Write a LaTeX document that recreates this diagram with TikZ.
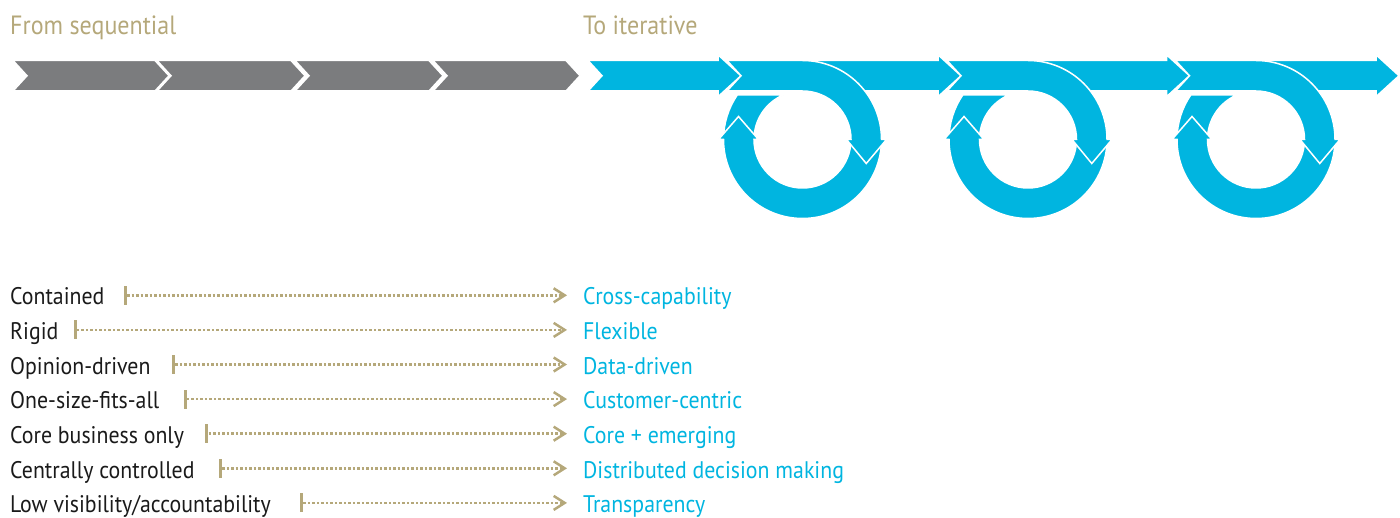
\documentclass[tikz,border=0pt]{standalone}
\usepackage{fontspec}
\setmainfont[FakeStretch=0.91]{PT Sans}
\usepackage{tikz}
\usetikzlibrary{arrows.meta,positioning}

\definecolor{seqgrey}{HTML}{7B7C7E}
\definecolor{iterblue}{HTML}{00B5E0}
\definecolor{khaki}{HTML}{B5A87A}
\definecolor{ink}{HTML}{1A1A1A}

\begin{document}
\begin{tikzpicture}[x=1pt,y=1pt,
  seqbox/.style={fill=seqgrey,draw=white,line width=1.5pt},
  iterbox/.style={fill=iterblue,draw=white,line width=1.5pt},
  heading/.style={anchor=base west,inner sep=0pt,text=khaki,font=\fontsize{26.4}{30}\selectfont},
  oldlabel/.style={anchor=base west,inner sep=0pt,text=ink,font=\fontsize{24}{28}\selectfont},
  newlabel/.style={anchor=base west,inner sep=0pt,text=iterblue,font=\fontsize{24}{28}\selectfont},
  tickbar/.style={fill=khaki,inner sep=0pt,minimum width=3pt,minimum height=19pt,anchor=south west},
  shiftline/.style={khaki,line width=2.5pt,dash pattern=on 2.5pt off 2pt,shorten >=16pt,
    -{Straight Barb[length=11pt,width=14pt]}}]
\useasboundingbox (0,0) rectangle (1400,-518);

\node[heading] (from) at (10,-35) {From sequential};
\node[heading] (to) at (583,-35) {To iterative};

% sequential: four grey chevrons
\foreach \tail/\tip in {13/169, 157/305, 295/443, 433/580}
  \draw[seqbox] (\tail,-60.5) -- (\tip-14,-60.5) -- (\tip,-75.75) -- (\tip-14,-91)
    -- (\tail,-91) -- (\tail+14,-75.75) -- cycle;

% iterative: first arrow, then each loop with the arrow leaving it
\draw[iterbox] (588,-60.5) -- (718,-60.5) -- (718,-54.75) -- (741,-75.75)
  -- (718,-96.75) -- (718,-91) -- (588,-91) -- (602,-75.75) -- cycle;
\foreach \cx/\tip/\next in {802.5/741/961, 1028/961/1189.5, 1256/1189.5/1399} {
  \draw[iterbox] (\cx,-60.5) -- (\next-23,-60.5) -- (\next-23,-54.75) -- (\next,-75.75)
    -- (\next-23,-96.75) -- (\next-23,-91) -- (\cx,-91) -- cycle;
  \begin{scope}[shift={(\cx,-139.5)}]
    % left piece, cut under the band
    \draw[iterbox] (180:79) arc[start angle=180,end angle=145.7,radius=79]
      -- (113.4:48.5) arc[start angle=113.4,end angle=180,radius=48.5] -- cycle;
    % bottom half, head pointing up
    \draw[iterbox] (0:79) arc[start angle=0,end angle=-180,radius=79]
      -- (-84,0) -- (-64,23) -- (-44,0) -- (-48.5,0)
      arc[start angle=180,end angle=360,radius=48.5] -- cycle;
    % band turning down, head pointing down
    \draw[iterbox] (\tip-14-\cx,79) -- (0,79) arc[start angle=90,end angle=0,radius=79]
      -- (84,0) -- (63.75,-24) -- (44,0) -- (48.5,0)
      arc[start angle=0,end angle=90,radius=48.5] -- (\tip-14-\cx,48.5)
      -- (\tip-\cx,63.75) -- cycle;
  \end{scope}
}

\node[oldlabel] (l1) at (10,-305) {Contained};
\node[oldlabel] (l2) at (10,-339.6) {Rigid};
\node[oldlabel] (l3) at (10,-374.2) {Opinion-driven};
\node[oldlabel] (l4) at (10,-408.8) {One-size-fits-all};
\node[oldlabel] (l5) at (10,-443.4) {Core business only};
\node[oldlabel] (l6) at (10,-478) {Centrally controlled};
\node[oldlabel] (l7) at (10,-512.6) {Low visibility/accountability};

\node[newlabel] (r1) at (583,-305) {Cross-capability};
\node[newlabel] (r2) at (583,-339.6) {Flexible};
\node[newlabel] (r3) at (583,-374.2) {Data-driven};
\node[newlabel] (r4) at (583,-408.8) {Customer-centric};
\node[newlabel] (r5) at (583,-443.4) {Core + emerging};
\node[newlabel] (r6) at (583,-478) {Distributed decision making};
\node[newlabel] (r7) at (583,-512.6) {Transparency};

\node[tickbar] (t1) at ([xshift=19pt]l1.base east) {};
\node[tickbar] (t2) at ([xshift=15pt]l2.base east) {};
\node[tickbar] (t3) at ([xshift=21pt]l3.base east) {};
\node[tickbar] (t4) at ([xshift=24pt]l4.base east) {};
\node[tickbar] (t5) at ([xshift=21pt]l5.base east) {};
\node[tickbar] (t6) at ([xshift=24pt]l6.base east) {};
\node[tickbar] (t7) at ([xshift=29pt]l7.base east) {};

\draw[shiftline] (t1.east) -- (t1.east -| r1.west);
\draw[shiftline] (t2.east) -- (t2.east -| r2.west);
\draw[shiftline] (t3.east) -- (t3.east -| r3.west);
\draw[shiftline] (t4.east) -- (t4.east -| r4.west);
\draw[shiftline] (t5.east) -- (t5.east -| r5.west);
\draw[shiftline] (t6.east) -- (t6.east -| r6.west);
\draw[shiftline] (t7.east) -- (t7.east -| r7.west);
\end{tikzpicture}
\end{document}
